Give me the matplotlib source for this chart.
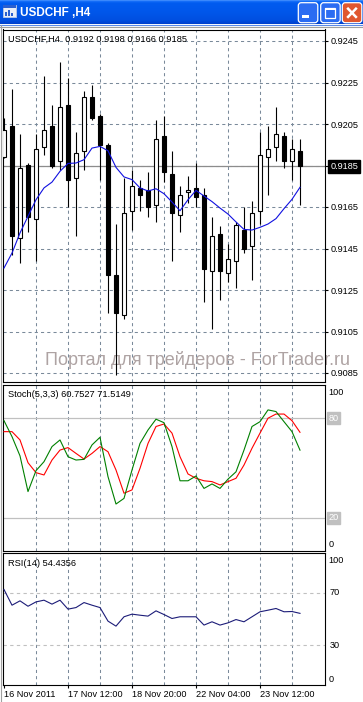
import numpy as np
import matplotlib
matplotlib.use('Agg')
import matplotlib.pyplot as plt
from matplotlib.patches import Rectangle, FancyBboxPatch

# ---------------- data ----------------
opens = [0.9189, 0.9204, 0.9150, 0.9185, 0.9159, 0.9194, 0.9204, 0.9187, 0.9214, 0.9179,
         0.9192, 0.9218, 0.9209, 0.9195, 0.9132, 0.9113, 0.9163, 0.9174, 0.9173, 0.9166,
         0.9199, 0.9181, 0.9161, 0.9172, 0.9174, 0.9171, 0.9134, 0.9152, 0.9133, 0.9139,
         0.9154, 0.9146, 0.9163, 0.9189, 0.9194, 0.9199, 0.9187, 0.9192]
highs = [0.9208, 0.9222, 0.9200, 0.9186, 0.9200, 0.9228, 0.9214, 0.9235, 0.9227, 0.9201,
         0.9221, 0.9224, 0.9210, 0.9196, 0.9157, 0.9179, 0.9183, 0.9178, 0.9182, 0.9207,
         0.9209, 0.9192, 0.9175, 0.9180, 0.9186, 0.9174, 0.9160, 0.9156, 0.9147, 0.9158,
         0.9165, 0.9168, 0.9201, 0.9204, 0.9213, 0.9201, 0.9198, 0.9198]
lows = [0.91885, 0.9142, 0.9138, 0.9153, 0.9139, 0.9190, 0.9184, 0.9183, 0.9165, 0.9151,
        0.9183, 0.9207, 0.9178, 0.9114, 0.9084, 0.9111, 0.9154, 0.9163, 0.9160, 0.9158,
        0.9177, 0.9139, 0.9153, 0.9167, 0.9165, 0.9119, 0.9106, 0.9120, 0.9129, 0.9126,
        0.9143, 0.9130, 0.9157, 0.9171, 0.9187, 0.9184, 0.9178, 0.9166]
closes = [0.9202, 0.9151, 0.9184, 0.9160, 0.9193, 0.9202, 0.9185, 0.9213, 0.9178, 0.9191,
          0.9218, 0.9208, 0.9195, 0.9132, 0.9114, 0.9162, 0.9175, 0.9171, 0.9165, 0.9198,
          0.9182, 0.9162, 0.9171, 0.9173, 0.9170, 0.9135, 0.9151, 0.9134, 0.9140, 0.91565,
          0.9145, 0.9162, 0.9190, 0.9193, 0.9200, 0.9187, 0.9193, 0.9185]
ma = [0.91356, 0.91428, 0.91525, 0.91605, 0.91685, 0.91742, 0.91770, 0.91822, 0.91860, 0.91862,
      0.91878, 0.91934, 0.91942, 0.91921, 0.91841, 0.91795, 0.91782, 0.91742, 0.91727, 0.91738,
      0.91714, 0.91674, 0.91632, 0.91685, 0.91730, 0.91703, 0.91676, 0.91645, 0.91616, 0.91578,
      0.91542, 0.91539, 0.91552, 0.91568, 0.91594, 0.91642, 0.91687, 0.91745]
stoch_k = [78.5, 68.9, 57.3, 35.8, 48.4, 53.8, 62.9, 66.9, 56.8, 54.8, 55.2, 63.9, 68.5, 44.8,
           28.3, 31.7, 48.8, 64.8, 72.9, 79.4, 77.3, 62.9, 42.3, 42.3, 45.2, 37.7, 40.4, 37.7,
           43.3, 47.7, 60.8, 75.0, 77.9, 85.0, 84.0, 77.9, 71.9, 60.75]
stoch_d = [71.9, 71.9, 66.9, 53.2, 47.2, 45.8, 54.8, 60.8, 62.3, 58.8, 55.4, 58.8, 62.9, 59.8,
           48.8, 34.8, 36.8, 49.8, 64.8, 75.0, 76.5, 71.0, 56.8, 46.4, 43.8, 42.3, 41.8, 39.8,
           41.8, 43.8, 51.8, 61.9, 71.0, 80.0, 82.5, 82.5, 78.5, 71.5]
rsi = [72.5, 60.6, 63.9, 59.8, 63.1, 64.4, 61.4, 64.4, 57.6, 58.8, 62.6, 60.6, 58.8, 48.5,
       44.7, 51.8, 53.8, 53.0, 52.3, 56.3, 53.5, 50.5, 51.8, 51.8, 51.8, 45.5, 48.0, 45.5,
       47.2, 49.7, 48.0, 51.8, 55.6, 56.8, 58.1, 55.6, 55.8, 54.4]
price_ticks = [0.9245, 0.9225, 0.9205, 0.9185, 0.9165, 0.9145, 0.9125, 0.9105, 0.9085]
last_price = 0.9185
time_labels = ['16 Nov 2011', '17 Nov 12:00', '18 Nov 20:00', '22 Nov 04:00', '23 Nov 12:00']
time_label_idx = [0, 8, 16, 24, 32]
grid_idx = [4, 8, 12, 16, 20, 24, 28, 32, 36]
stoch_levels = [80, 20]
rsi_levels = [70, 30]

# ---------------- layout helpers ----------------
W, H = 363, 702
fig = plt.figure(figsize=(W / 100, H / 100), dpi=100)
fig.patch.set_facecolor('white')
FONT = ['Liberation Sans', 'DejaVu Sans']
GRID = '#7a8a9a'


def rect(x0, y0, x1, y1):
    return [x0 / W, 1 - y1 / H, (x1 - x0) / W, (y1 - y0) / H]


def ftext(x, y, s, **kw):
    kw.setdefault('family', FONT)
    return fig.text(x / W, 1 - y / H, s, **kw)


# background / window chrome
bg = fig.add_axes([0, 0, 1, 1])
bg.set_xlim(0, W)
bg.set_ylim(H, 0)
bg.axis('off')
keys_y = [0, 1, 3, 12, 20, 24]
keys_c = np.array([[0.35, 0.62, 1.0], [0.10, 0.45, 0.98], [0.0, 0.36, 0.94],
                   [0.0, 0.34, 0.92], [0.0, 0.31, 0.88], [0.0, 0.25, 0.80]])
rows = np.arange(24) + 0.5
grad = np.stack([np.interp(rows, keys_y, keys_c[:, k]) for k in range(3)], axis=1)[:, None, :]
bg.imshow(grad, extent=(0, W, 24, 0), aspect='auto', interpolation='bilinear', zorder=1)
bg.plot([0, W], [24.5, 24.5], color='#5a8ae8', lw=0.8, zorder=2)
bg.plot([0, W], [26.5, 26.5], color='#a0a0a0', lw=0.8, zorder=2)
bg.plot([0.5, 0.5], [25, H], color='#a0a0a0', lw=0.8, zorder=2)
# icon
bg.add_patch(Rectangle((2.5, 5), 13, 11.5, fc='#e8eef8', ec='#b8c8e8', lw=0.6, zorder=3))
bg.add_patch(Rectangle((2.5, 5), 13, 3, fc='#2a60d0', ec='none', zorder=4))
for bx, bh in [(4.5, 4), (7.5, 6), (10.5, 3)]:
    bg.add_patch(Rectangle((bx, 15.5 - bh), 2, bh, fc='#2a60d0', ec='none', zorder=4))
bg.text(20, 12.8, 'USDCHF ,H4', color='white', fontsize=8.5, fontweight='bold',
        va='center', ha='left', family=FONT, zorder=5)
# buttons
for bx, fc in [(298.3, '#2b6cf2'), (320.7, '#2b6cf2'), (342.3, '#e0572f')]:
    bg.add_patch(FancyBboxPatch((bx, 2.7), 19.5, 20, boxstyle='round,pad=0,rounding_size=3',
                                fc=fc, ec='white', lw=0.9, zorder=4))
bg.add_patch(Rectangle((302, 15.2), 6.5, 3, fc='white', ec='none', zorder=5))
bg.add_patch(Rectangle((325.2, 7.5), 10, 10, fill=False, ec='white', lw=0.9, zorder=5))
bg.add_patch(Rectangle((325.2, 7.5), 10, 2.2, fc='white', ec='none', zorder=5))
bg.plot([347.2, 356.8], [7.8, 17.8], color='white', lw=1.8, zorder=5, solid_capstyle='butt')
bg.plot([347.2, 356.8], [17.8, 7.8], color='white', lw=1.8, zorder=5, solid_capstyle='butt')

# x mapping: candle i at pixel 4 + 8 i, panels span pixels 2.7 .. 325
X0, X1 = 2.7, 325.0
xlim = ((X0 - 4) / 8, (X1 - 4) / 8)
n = len(closes)
idx = np.arange(n)


def style_panel(ax, ylim):
    ax.set_xlim(*xlim)
    ax.set_ylim(*ylim)
    ax.set_facecolor('white')
    for s in ax.spines.values():
        s.set_color('black')
        s.set_linewidth(0.8)
    ax.set_xticks([])
    ax.set_yticks([])
    for g in grid_idx:
        ax.axvline(g, color=GRID, lw=0.75, ls=(0, (3, 3)), zorder=0.5)


# ---------------- main price panel ----------------
PY0, PY1 = 29.5, 382.5
pp = 20750.0
ylim_main = (0.9245 - (PY1 - 41) / pp, 0.9245 + (41 - PY0) / pp)
ax = fig.add_axes(rect(X0, PY0, X1, PY1))
style_panel(ax, ylim_main)
for p in price_ticks:
    ax.axhline(p, color=GRID, lw=0.75, ls=(0, (3, 3)), zorder=0.5)
ax.axhline(last_price, color='#8c8c8c', lw=0.9, zorder=0.8)
# watermark (spills over the price scale, as in the terminal)
ax.text(45 / W, 1 - 360 / H, 'Портал для трейдеров - ForTrader.ru',
        transform=fig.transFigure, fontsize=13, family=FONT, color='#aea3a3',
        va='center', ha='left', zorder=1, clip_on=False)
ax.vlines(idx, lows, highs, color='black', lw=0.8, zorder=2)
o = np.array(opens)
c = np.array(closes)
bottoms = np.minimum(o, c)
heights = np.maximum(np.abs(c - o), 0.00002)
body_col = ['white' if cc >= oo else 'black' for oo, cc in zip(o, c)]
ax.bar(idx, heights, bottom=bottoms, width=0.52, color=body_col, edgecolor='black',
       linewidth=0.8, zorder=3)
ax.plot(idx, ma, color='#1010e0', lw=0.8, zorder=4)
ax.yaxis.tick_right()
ax.set_yticks(price_ticks)
ax.set_yticklabels(['%.4f' % p for p in price_ticks])
ax.tick_params(axis='y', right=True, left=False, labelright=True, labelleft=False,
               length=2.2, width=0.8, pad=1.5, labelsize=6.6, direction='out')
for lbl in ax.get_yticklabels():
    lbl.set_family(FONT)
    if lbl.get_text() == '%.4f' % last_price:
        lbl.set_color('white')
        lbl.set_bbox(dict(boxstyle='square,pad=0.25', fc='black', ec='black'))
ax.text(0.015, 1 - 9.5 / (PY1 - PY0), 'USDCHF,H4  %.4f %.4f %.4f %.4f' % (opens[-1], highs[-1], lows[-1], closes[-1]),
        transform=ax.transAxes, fontsize=6.7, family=FONT, va='center', ha='left', zorder=6)

# ---------------- stochastic panel ----------------
SY0, SY1 = 385.0, 551.0
axs = fig.add_axes(rect(X0, SY0, X1, SY1))
style_panel(axs, (0, 100))
for lv in stoch_levels:
    axs.axhline(lv, color='#c0c0c0', lw=0.9, zorder=0.6)
axs.plot(idx, stoch_d, color='#ff0000', lw=0.8, zorder=3)
axs.plot(idx, stoch_k, color='#008000', lw=0.8, zorder=4)
axs.text(0.015, 1 - 9.5 / (SY1 - SY0), 'Stoch(5,3,3) %.4f %.4f' % (60.7527, 71.5149),
         transform=axs.transAxes, fontsize=6.7, family=FONT, va='center', ha='left')
ftext(328.3, 392.5, '100', fontsize=6.6, va='center', ha='left')
ftext(328.3, 544.5, '0', fontsize=6.6, va='center', ha='left')
for lv in stoch_levels:
    ypx = SY1 - (SY1 - SY0) * lv / 100
    ftext(328.3, ypx, str(lv), fontsize=6.6, va='center', ha='left', color='white',
          bbox=dict(boxstyle='square,pad=0.15', fc='#c0c0c0', ec='#c0c0c0'))

# ---------------- RSI panel ----------------
RY0, RY1 = 553.3, 685.0
axr = fig.add_axes(rect(X0, RY0, X1, RY1))
style_panel(axr, (0, 100))
for lv in rsi_levels:
    axr.axhline(lv, color='#c0c0c0', lw=0.8, ls=(0, (3, 3)), zorder=0.6)
axr.plot(idx, rsi, color='#1c1c78', lw=0.8, zorder=3)
axr.text(0.015, 1 - 10 / (RY1 - RY0), 'RSI(14) %.4f' % 54.4356,
         transform=axr.transAxes, fontsize=6.7, family=FONT, va='center', ha='left')
ftext(328.3, 560.7, '100', fontsize=6.6, va='center', ha='left')
ftext(328.3, 679.0, '0', fontsize=6.6, va='center', ha='left')
for lv in rsi_levels:
    ypx = RY1 - (RY1 - RY0) * lv / 100
    ftext(330.0, ypx, str(lv), fontsize=6.6, va='center', ha='left')
axr.set_xticks(time_label_idx)
axr.set_xticklabels(time_labels)
axr.tick_params(axis='x', bottom=True, length=2.5, width=0.8, pad=1.2, labelsize=6.6,
                direction='out')
for lbl in axr.get_xticklabels():
    lbl.set_ha('left')
    lbl.set_family(FONT)

fig.savefig('out.png', dpi=100, facecolor='white')
